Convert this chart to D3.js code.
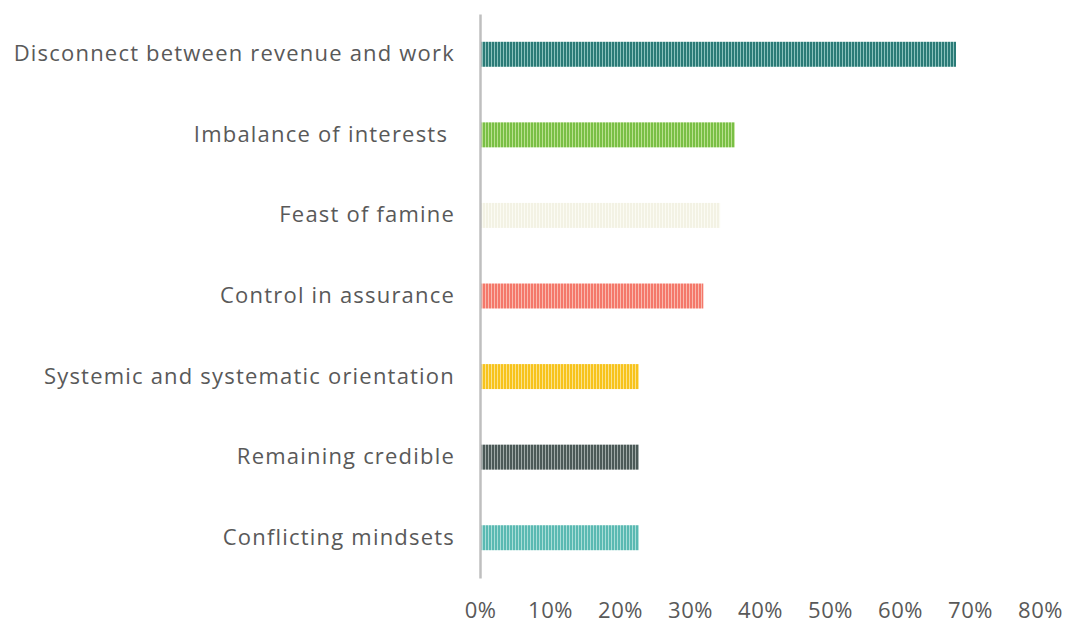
<!DOCTYPE html>
<html><head><meta charset="utf-8">
<script src="https://cdn.jsdelivr.net/npm/d3@7"></script>
<style>
html,body{margin:0;padding:0;background:#fff;}
svg text{font-family:"Open Sans","Noto Sans",sans-serif;fill:#595959;white-space:pre;}
</style></head>
<body>
<svg id="chart" width="1075" height="635"></svg>
<script>
const categories = ["Disconnect between revenue and work","Imbalance of interests ","Feast of famine","Control in assurance","Systemic and systematic orientation","Remaining credible","Conflicting mindsets"];
const values = [68, 36.4, 34.3, 31.9, 22.7, 22.7, 22.7];
const barColors = ["#2b7b77","#79bf45","#f3f2e4","#f4786a","#f7c31c","#4b5957","#5ab9b2"];
const stripeColors = ["#8cc2bd","#b9e08f","#fbfbf3","#f9b9ae","#fbe28c","#9fa9a7","#a9ddd8"];
const tickValues = [0,10,20,30,40,50,60,70,80];

const svg = d3.select("#chart");
const margin = {left:480, right:35, top:14, bottom:57};
const W = 1075, H = 635;

const x = d3.scaleLinear().domain([0,80]).range([margin.left, W - margin.right]);
const y = d3.scaleBand().domain(categories).range([margin.top, H - margin.bottom]).paddingInner(0.69).paddingOuter(0.345);

const defs = svg.append("defs");
categories.forEach((c,i)=>{
  const p = defs.append("pattern").attr("id","pat"+i).attr("patternUnits","userSpaceOnUse")
    .attr("width",3).attr("height",4);
  p.append("rect").attr("width",3).attr("height",4).attr("fill",barColors[i]);
  p.append("rect").attr("x",2).attr("width",1).attr("height",4).attr("fill",stripeColors[i]);
});

svg.append("g").selectAll("rect").data(categories).join("rect")
  .attr("x", x(0))
  .attr("y", d=>y(d))
  .attr("width", (d,i)=>x(values[i]) - x(0))
  .attr("height", y.bandwidth())
  .attr("fill", (d,i)=>"url(#pat"+i+")");

// y axis line + labels
const yAxis = d3.axisLeft(y).tickSize(0).tickPadding(25);
const gy = svg.append("g").attr("transform",`translate(${x(0)},0)`).call(yAxis);
gy.select(".domain").attr("stroke","#bfbfbf").attr("stroke-width",2.5);
gy.selectAll("text").attr("font-size",22).attr("letter-spacing","1.2px").attr("fill","#595959")
  .style("font-family",'"Open Sans","Noto Sans",sans-serif');

// x axis labels only
const xAxis = d3.axisBottom(x).tickValues(tickValues).tickFormat(d=>d+"%").tickSize(0).tickPadding(20);
const gx = svg.append("g").attr("transform",`translate(0,${H - margin.bottom + 4})`).call(xAxis);
gx.select(".domain").remove();
gx.selectAll("text").attr("font-size",22).attr("letter-spacing","0.5px").attr("fill","#595959")
  .style("font-family",'"Open Sans","Noto Sans",sans-serif');
</script>
</body></html>
